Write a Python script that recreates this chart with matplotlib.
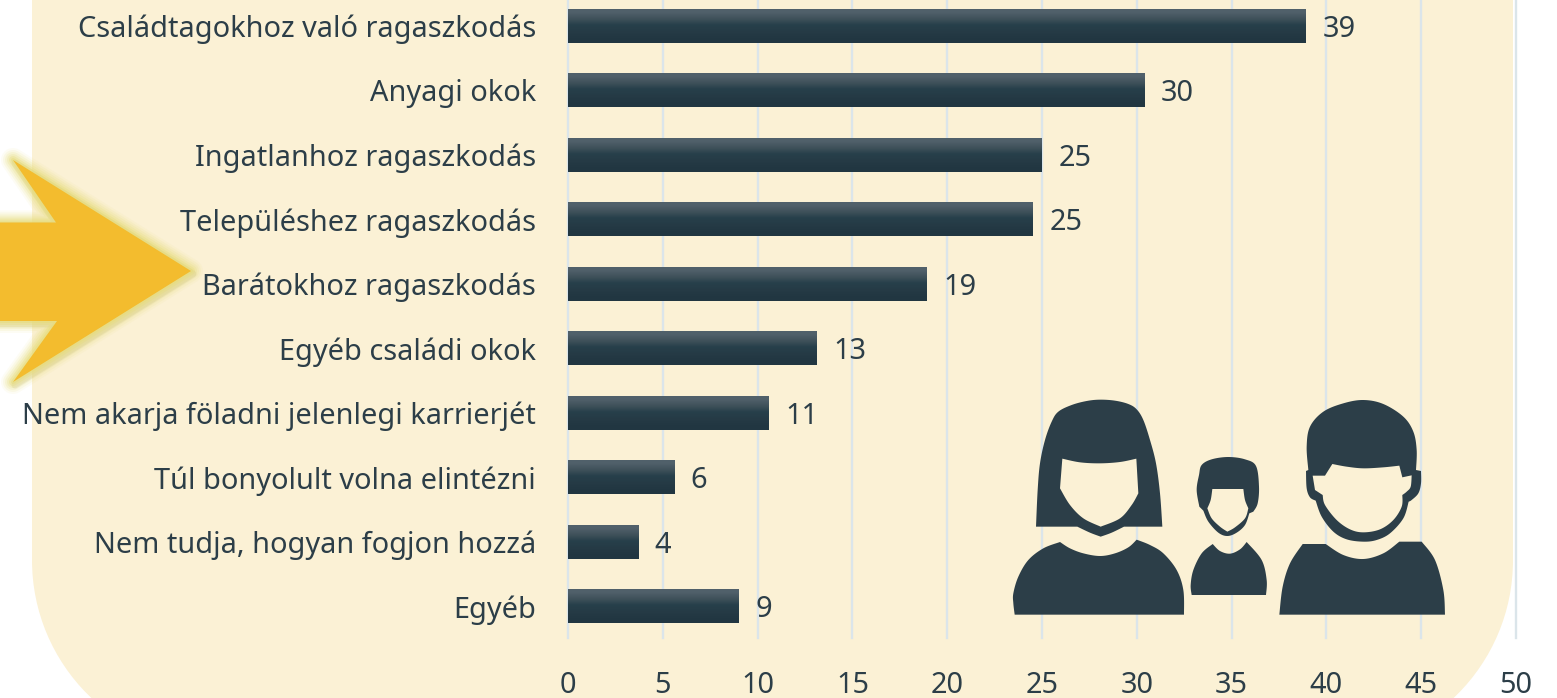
import numpy as np
import matplotlib
matplotlib.use("Agg")
import matplotlib.pyplot as plt
from matplotlib.patches import Polygon, PathPatch
from matplotlib.path import Path

categories = ["Családtagokhoz való ragaszkodás", "Anyagi okok", "Ingatlanhoz ragaszkodás",
              "Településhez ragaszkodás", "Barátokhoz ragaszkodás", "Egyéb családi okok",
              "Nem akarja föladni jelenlegi karrierjét", "Túl bonyolult volna elintézni",
              "Nem tudja, hogyan fogjon hozzá", "Egyéb"]
values = [38.9, 30.4, 25.0, 24.5, 18.9, 13.1, 10.6, 5.6, 3.7, 9.0]
value_labels = ["39", "30", "25", "25", "19", "13", "11", "6", "4", "9"]
x_ticks = [0, 5, 10, 15, 20, 25, 30, 35, 40, 45, 50]

W, H = 1557, 698
DARK = "#2c3e48"
BG = "#fbf1d5"
plt.rcParams['font.family'] = ['Noto Sans', 'DejaVu Sans']
FS = 20.8

fig = plt.figure(figsize=(W / 100, H / 100), dpi=100, facecolor="white")

# background layer in pixel coordinates
bg = fig.add_axes([0, 0, 1, 1], zorder=0)
bg.set_xlim(0, W); bg.set_ylim(H, 0); bg.axis("off")
L, R, YC, RAD, K = 32, 1513, 560, 190, 0.5523
verts = [(L, -10), (L, YC), (L, YC + K * RAD), (L + RAD - K * RAD, YC + RAD), (L + RAD, YC + RAD),
         (R - RAD, YC + RAD), (R - RAD + K * RAD, YC + RAD), (R, YC + K * RAD), (R, YC), (R, -10), (L, -10)]
codes = [Path.MOVETO, Path.LINETO, Path.CURVE4, Path.CURVE4, Path.CURVE4, Path.LINETO,
         Path.CURVE4, Path.CURVE4, Path.CURVE4, Path.LINETO, Path.CLOSEPOLY]
bg.add_patch(PathPatch(Path(verts, codes), fc=BG, ec="none"))

# chart
top, bottom, left, right = 0, 638, 568, 1516
ax = fig.add_axes([left / W, 1 - bottom / H, (right - left) / W, (bottom - top) / H], zorder=1)
ax.patch.set_alpha(0)
step = 64.5
ylims = ((bottom - 26) / step, (top - 26) / step)
ypos = np.arange(len(categories))
bars = ax.barh(ypos, values, height=33.5 / step, color="#263a45", zorder=3)
grad = np.array([[0.0], [0.25], [0.55], [0.75], [1.0]])
cmap = matplotlib.colors.LinearSegmentedColormap.from_list("g", ["#50606a", "#3e5059", "#27404b", "#253a45", "#213641"])
for b in bars:
    x0, y0, w, h = b.get_x(), b.get_y(), b.get_width(), b.get_height()
    ax.imshow(grad, cmap=cmap, extent=(x0, x0 + w, y0 + h, y0), aspect="auto", zorder=3.1,
              interpolation="bilinear", origin="upper")
ax.set_xlim(0, 50)
ax.set_ylim(*ylims)
ax.set_axisbelow(True)
ax.grid(axis="x", color="#dbe5ea", lw=1.7, zorder=1, clip_on=False)
for s in ax.spines.values():
    s.set_visible(False)
ax.set_xticks(x_ticks)
ax.set_yticks(ypos)
ax.set_yticklabels(categories)
ax.tick_params(axis="both", length=0, labelsize=FS, labelcolor=DARK)
ax.tick_params(axis="y", pad=23)
ax.tick_params(axis="x", pad=23.5)
for v, t, y in zip(values, value_labels, ypos):
    ax.annotate(t, (v, y), xytext=(12, -2.5), textcoords="offset points", va="center", ha="left",
                fontsize=FS, color=DARK, zorder=5)

# overlay: arrow and icons
ov = fig.add_axes([0, 0, 1, 1], zorder=2)
ov.set_xlim(0, W); ov.set_ylim(H, 0); ov.axis("off"); ov.patch.set_alpha(0)

arrow = np.array([(-8, 222.5), (56, 222.5), (13, 160), (191, 271), (13, 382), (57, 321), (-8, 321)])
ov.add_patch(Polygon(arrow + [2, 3], closed=True, fc="none", ec="#9a9060", lw=5, alpha=0.16, joinstyle="round"))
for lw, a in zip([24, 20, 16, 12, 8, 4], [0.08, 0.12, 0.16, 0.22, 0.32, 0.45]):
    ov.add_patch(Polygon(arrow, closed=True, fc="none", ec="#e6dc78", lw=lw * 0.72, alpha=a, joinstyle="round"))
ov.add_patch(Polygon(arrow, closed=True, fc="#f3bc2e", ec="none"))


def outline(points, corners, n=12):
    """Closed outline through the points: smooth runs between the given corner points."""
    pts = np.array(points, float)
    m = len(pts)
    out = []
    corners = sorted(corners)
    for a, b in zip(corners, corners[1:] + [corners[0] + m]):
        run = pts[[i % m for i in range(a, b + 1)]]
        ext = np.vstack([run[0], run, run[-1]])
        for i in range(1, len(ext) - 2):
            p0, p1, p2, p3 = ext[i - 1], ext[i], ext[i + 1], ext[i + 2]
            for t in np.linspace(0, 1, n, endpoint=False):
                out.append(0.5 * (2 * p1 + (p2 - p0) * t + (2 * p0 - 5 * p1 + 4 * p2 - p3) * t ** 2
                                  + (3 * p1 - p0 - 3 * p2 + p3) * t ** 3))
    out = np.array(out)
    return np.column_stack([1000 + out[:, 0] / 3, 390 + out[:, 1] / 3])


shapes = [
    # woman
    ([(108,410),(113,300),(120,220),(135,150),(155,95),(175,65),(215,45),(260,33),(300,29),(345,32),(385,42),(410,58),(430,90),(450,150),(468,220),(480,310),(487,410),(372,410),(335,428),(302,440),(270,428),(232,410)], [0,16,17,19,21], DARK),
    ([(187,206),(240,217),(300,220),(360,216),(409,206),(415,310),(395,345),(360,385),(302,410),(250,385),(210,345),(180,295)], [0,4,5,8,11], BG),
    ([(44,674),(552,674),(550,600),(530,540),(490,490),(450,465),(410,449),(385,472),(345,490),(300,498),(250,490),(210,475),(180,456),(130,475),(85,510),(55,560),(40,610),(40,640)], [0,1,6,12], DARK),
    # child
    ([(590,300),(597,255),(605,225),(635,208),(685,201),(735,208),(768,228),(777,290),(773,340),(760,365),(748,370),(735,405),(710,428),(682,438),(655,428),(625,395),(610,362),(598,350)], [9,10,16,17], DARK),
    ([(637,297),(730,297),(735,330),(745,355),(735,385),(705,412),(682,425),(660,410),(635,385),(622,355),(632,330)], [0,1,3,6,9], BG),
    ([(575,615),(798,615),(800,570),(785,510),(740,456),(720,478),(690,491),(660,483),(638,462),(605,490),(580,540),(572,585)], [0,1,4,8], DARK),
    # man
    ([(918,243),(925,240),(920,170),(930,110),(970,65),(1030,40),(1090,30),(1150,42),(1210,80),(1240,125),(1250,180),(1248,240),(1263,243),(1263,280),(1255,310),(1235,330),(1226,335),(1210,385),(1170,430),(1130,450),(1090,455),(1040,448),(1000,425),(965,380),(947,332),(930,322),(920,295)], [0,1,11,12,16,24], DARK),
    ([(997,222),(1040,230),(1090,235),(1150,232),(1198,227),(1207,262),(1235,256),(1232,290),(1220,305),(1207,315),(1205,350),(1180,390),(1140,418),(1090,427),(1050,418),(1010,390),(975,345),(968,315),(945,300),(938,257),(975,257)], [0,4,5,6,9,17,18,19,20], BG),
    ([(838,674),(1335,674),(1330,600),(1305,510),(1265,455),(1198,455),(1150,490),(1090,507),(1030,495),(977,462),(908,462),(870,520),(848,590)], [0,1,4,5,9,10], DARK),
]
for pts, corners, col in shapes:
    ov.add_patch(Polygon(outline(pts, corners), closed=True, fc=col, ec="none"))

fig.savefig("out.png", dpi=100)
